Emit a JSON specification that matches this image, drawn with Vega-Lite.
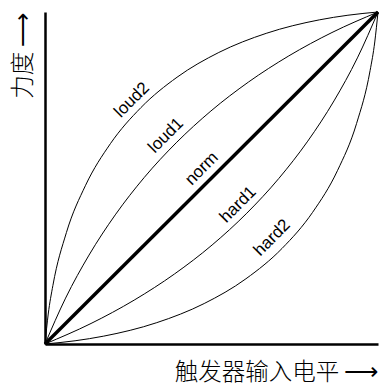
{
  "$schema": "https://vega.github.io/schema/vega-lite/v6.json",
  "width": 333,
  "height": 332,
  "autosize": {"type": "none"},
  "padding": {"left": 45, "top": 12, "right": 1, "bottom": 41},
  "background": "white",
  "config": {"view": {"stroke": null}},
  "datasets": {
    "curves": [
      {"curve": "loud2", "x": 0, "y": 0},
      {"curve": "loud2", "x": 0.0097, "y": 0.0903},
      {"curve": "loud2", "x": 0.0237, "y": 0.1763},
      {"curve": "loud2", "x": 0.0643, "y": 0.3357},
      {"curve": "loud2", "x": 0.1219, "y": 0.4781},
      {"curve": "loud2", "x": 0.1965, "y": 0.6035},
      {"curve": "loud2", "x": 0.288, "y": 0.712},
      {"curve": "loud2", "x": 0.3965, "y": 0.8035},
      {"curve": "loud2", "x": 0.5219, "y": 0.8781},
      {"curve": "loud2", "x": 0.6643, "y": 0.9357},
      {"curve": "loud2", "x": 0.8237, "y": 0.9763},
      {"curve": "loud2", "x": 0.9097, "y": 0.9903},
      {"curve": "loud2", "x": 1, "y": 1},
      {"curve": "loud1", "x": 0, "y": 0},
      {"curve": "loud1", "x": 0.0618, "y": 0.1382},
      {"curve": "loud1", "x": 0.1322, "y": 0.2678},
      {"curve": "loud1", "x": 0.211, "y": 0.389},
      {"curve": "loud1", "x": 0.2982, "y": 0.5018},
      {"curve": "loud1", "x": 0.394, "y": 0.606},
      {"curve": "loud1", "x": 0.4982, "y": 0.7018},
      {"curve": "loud1", "x": 0.611, "y": 0.789},
      {"curve": "loud1", "x": 0.7322, "y": 0.8678},
      {"curve": "loud1", "x": 0.8618, "y": 0.9382},
      {"curve": "loud1", "x": 1, "y": 1},
      {"curve": "hard1", "x": 0, "y": 0},
      {"curve": "hard1", "x": 0.1382, "y": 0.0618},
      {"curve": "hard1", "x": 0.2678, "y": 0.1322},
      {"curve": "hard1", "x": 0.389, "y": 0.211},
      {"curve": "hard1", "x": 0.5018, "y": 0.2982},
      {"curve": "hard1", "x": 0.606, "y": 0.394},
      {"curve": "hard1", "x": 0.7018, "y": 0.4982},
      {"curve": "hard1", "x": 0.789, "y": 0.611},
      {"curve": "hard1", "x": 0.8678, "y": 0.7322},
      {"curve": "hard1", "x": 0.9382, "y": 0.8618},
      {"curve": "hard1", "x": 1, "y": 1},
      {"curve": "hard2", "x": 0, "y": 0},
      {"curve": "hard2", "x": 0.0903, "y": 0.0097},
      {"curve": "hard2", "x": 0.1763, "y": 0.0237},
      {"curve": "hard2", "x": 0.3357, "y": 0.0643},
      {"curve": "hard2", "x": 0.4781, "y": 0.1219},
      {"curve": "hard2", "x": 0.6035, "y": 0.1965},
      {"curve": "hard2", "x": 0.712, "y": 0.288},
      {"curve": "hard2", "x": 0.8035, "y": 0.3965},
      {"curve": "hard2", "x": 0.8781, "y": 0.5219},
      {"curve": "hard2", "x": 0.9357, "y": 0.6643},
      {"curve": "hard2", "x": 0.9763, "y": 0.8237},
      {"curve": "hard2", "x": 0.9903, "y": 0.9097},
      {"curve": "hard2", "x": 1, "y": 1}
    ],
    "norm": [
      {"curve": "norm", "x": 0, "y": 0},
      {"curve": "norm", "x": 1, "y": 1}
    ],
    "labels": [
      {"label": "loud2", "x": 0.261, "y": 0.735},
      {"label": "loud1", "x": 0.363, "y": 0.628},
      {"label": "norm", "x": 0.471, "y": 0.528},
      {"label": "hard1", "x": 0.58, "y": 0.42},
      {"label": "hard2", "x": 0.682, "y": 0.32}
    ]
  },
  "encoding": {
    "x": {
      "field": "x", "type": "quantitative",
      "scale": {"domain": [0, 1], "nice": false, "zero": false},
      "axis": {
        "title": "触发器输入电平 ⟶",
        "domain": true, "domainColor": "black", "domainWidth": 2.5,
        "ticks": false, "labels": false, "grid": false,
        "titleFont": "Noto Sans CJK SC", "titleFontSize": 23.5, "titleFontWeight": 300,
        "titleColor": "black", "titleAnchor": "end", "titleAlign": "right", "titlePadding": 16, "titleBaseline": "top"
      }
    },
    "y": {
      "field": "y", "type": "quantitative",
      "scale": {"domain": [0, 1], "nice": false, "zero": false},
      "axis": {
        "title": "力度 ⟶",
        "domain": true, "domainColor": "black", "domainWidth": 2.5,
        "ticks": false, "labels": false, "grid": false,
        "titleFont": "Noto Sans CJK SC", "titleFontSize": 23.5, "titleFontWeight": 300,
        "titleColor": "black", "titleAnchor": "end", "titlePadding": 10
      }
    }
  },
  "layer": [
    {
      "data": {"name": "curves"},
      "mark": {"type": "line", "color": "black", "strokeWidth": 1, "interpolate": "monotone"},
      "encoding": {
        "detail": {"field": "curve"},
        "order": {"field": "x", "type": "quantitative"}
      }
    },
    {
      "data": {"name": "norm"},
      "mark": {"type": "line", "color": "black", "strokeWidth": 3.4},
      "encoding": {}
    },
    {
      "data": {"name": "labels"},
      "mark": {"type": "text", "angle": 315, "font": "Liberation Sans", "fontSize": 17, "color": "black", "align": "center", "baseline": "middle"},
      "encoding": {
        "text": {"field": "label"}
      }
    }
  ]
}
